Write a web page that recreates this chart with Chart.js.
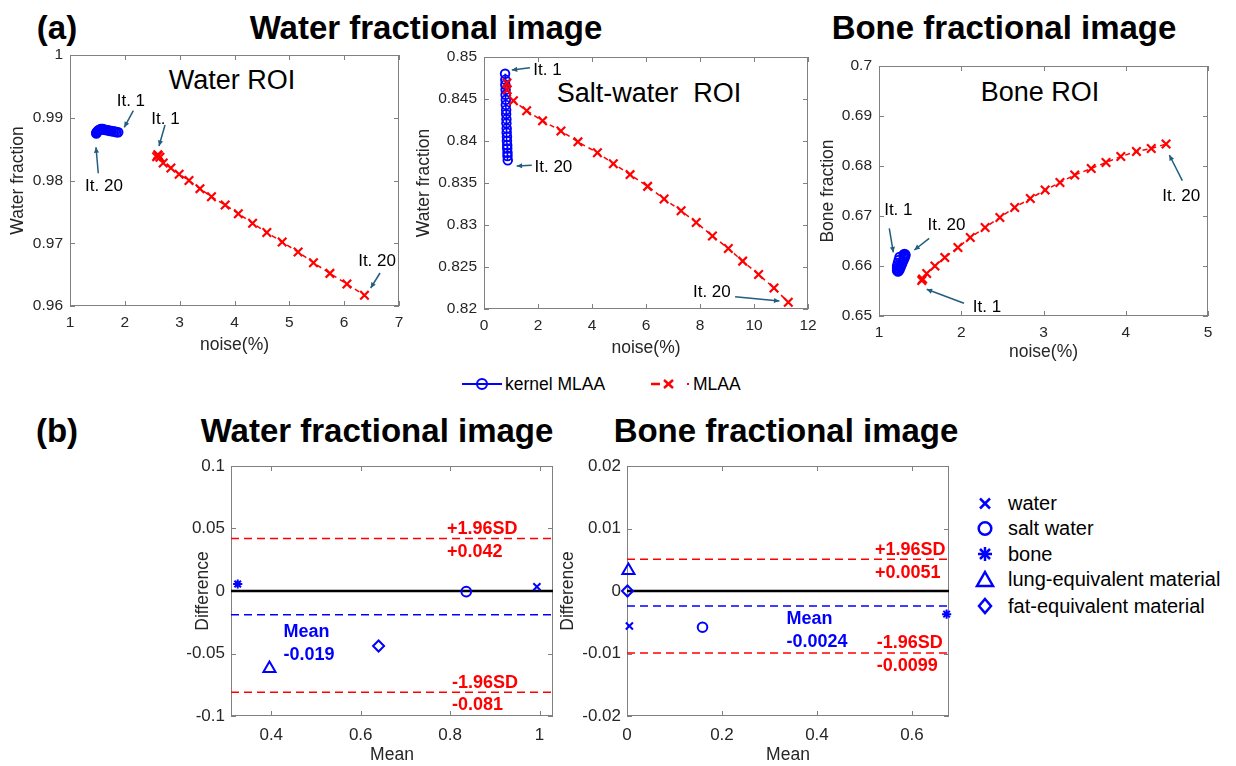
<!DOCTYPE html>
<html>
<head>
<meta charset="utf-8">
<script src="https://cdn.jsdelivr.net/npm/chart.js@4.4.1/dist/chart.umd.min.js"></script>
<style>
  body { margin: 0; width: 1236px; height: 766px; position: relative; background: #fff; overflow: hidden;
         font-family: 'Liberation Sans', Arial, sans-serif; }
  canvas { position: absolute; }
  .lbl { position: absolute; white-space: pre; transform: translate(-50%, -50%); color: #000; line-height: 1; }
  .b { font-weight: bold; }
  svg { position: absolute; }
</style>
</head>
<body>

<div class="lbl b" style="left:57px;top:27px;font-size:33px">(a)</div>
<div class="lbl b" style="left:426px;top:27px;font-size:33px">Water fractional image</div>
<div class="lbl b" style="left:1004px;top:27px;font-size:33px">Bone fractional image</div>
<div class="lbl b" style="left:57px;top:430px;font-size:33px">(b)</div>
<div class="lbl b" style="left:377px;top:430px;font-size:33px">Water fractional image</div>
<div class="lbl b" style="left:786px;top:430px;font-size:33px">Bone fractional image</div>
<div class="lbl" style="left:232px;top:80px;font-size:27px">Water ROI</div>
<div class="lbl" style="left:649px;top:93px;font-size:27px">Salt-water  ROI</div>
<div class="lbl" style="left:1040px;top:92px;font-size:27px">Bone ROI</div>

<!-- legend of part (a) -->
<svg style="left:440px;top:372px" width="320" height="24">
  <line x1="22" y1="12" x2="62" y2="12" stroke="#0000ff" stroke-width="2"/>
  <circle cx="42" cy="12" r="5" fill="none" stroke="#0000ff" stroke-width="2"/>
  <text x="65" y="18" font-family="Liberation Sans, Arial" font-size="17.5" fill="#000">kernel MLAA</text>
  <line x1="211" y1="12" x2="220" y2="12" stroke="#ff0000" stroke-width="2.5"/>
  <line x1="224" y1="8" x2="233" y2="16" stroke="#ff0000" stroke-width="2.5"/>
  <line x1="224" y1="16" x2="233" y2="8" stroke="#ff0000" stroke-width="2.5"/>
  <line x1="247" y1="12" x2="249" y2="12" stroke="#ff0000" stroke-width="2"/>
  <text x="253" y="18" font-family="Liberation Sans, Arial" font-size="17.5" fill="#000">MLAA</text>
</svg>

<!-- legend of part (b) -->
<svg style="left:968px;top:488px" width="268" height="132">
  <g stroke="#0000ff" stroke-width="2.5" fill="none">
    <line x1="12" y1="10.5" x2="22" y2="20.5"/><line x1="12" y1="20.5" x2="22" y2="10.5"/>
    <circle cx="17" cy="40.5" r="6.3"/>
    <line x1="17" y1="59" x2="17" y2="73"/><line x1="10" y1="66" x2="24" y2="66"/>
    <line x1="12" y1="61" x2="22" y2="71"/><line x1="12" y1="71" x2="22" y2="61"/>
    <polygon points="17,84 25,98 9,98"/>
    <polygon points="17,111 23,118 17,125 11,118"/>
  </g>
  <g font-family="Liberation Sans, Arial" font-size="20" fill="#000">
    <text x="40" y="22">water</text>
    <text x="40" y="47">salt water</text>
    <text x="40" y="73">bone</text>
    <text x="40" y="98">lung-equivalent material</text>
    <text x="40" y="125">fat-equivalent material</text>
  </g>
</svg>

<script>
// ---- (a) noise (%) vs fraction, iterations 1..20 ----
const waterRoiKernelNoise = [1.88, 1.85, 1.82, 1.79, 1.76, 1.73, 1.70, 1.67, 1.64, 1.62, 1.60, 1.58, 1.56, 1.54, 1.52, 1.51, 1.50, 1.49, 1.48, 1.48];
const waterRoiKernelFrac  = [0.9877, 0.9877, 0.9878, 0.9878, 0.9879, 0.9879, 0.9880, 0.9880, 0.9881, 0.9881, 0.9882, 0.9882, 0.9882, 0.9881, 0.9880, 0.9879, 0.9878, 0.9877, 0.9876, 0.9875];
const waterRoiMlaaNoise = [2.60, 2.58, 2.61, 2.64, 2.70, 2.84, 2.99, 3.17, 3.37, 3.58, 3.83, 4.07, 4.33, 4.59, 4.87, 5.16, 5.44, 5.74, 6.05, 6.37];
const waterRoiMlaaFrac  = [0.9841, 0.9838, 0.9840, 0.9837, 0.9828, 0.9820, 0.9810, 0.9800, 0.9787, 0.9774, 0.9761, 0.9747, 0.9732, 0.9717, 0.9702, 0.9686, 0.9669, 0.9652, 0.9635, 0.9617];

const saltRoiKernelNoise = [0.78, 0.79, 0.79, 0.80, 0.80, 0.81, 0.81, 0.82, 0.82, 0.83, 0.83, 0.84, 0.84, 0.85, 0.85, 0.86, 0.86, 0.87, 0.87, 0.88];
const saltRoiKernelFrac  = [0.8480, 0.8473, 0.8467, 0.8461, 0.8455, 0.8449, 0.8443, 0.8437, 0.8432, 0.8426, 0.8421, 0.8415, 0.8410, 0.8405, 0.8400, 0.8395, 0.8391, 0.8386, 0.8382, 0.8377];
const saltRoiMlaaNoise = [0.85, 0.86, 1.09, 1.58, 2.17, 2.85, 3.48, 4.20, 4.79, 5.41, 6.06, 6.67, 7.30, 7.86, 8.46, 9.05, 9.58, 10.17, 10.74, 11.27];
const saltRoiMlaaFrac  = [0.8469, 0.8461, 0.8448, 0.8436, 0.8424, 0.8412, 0.8399, 0.8386, 0.8373, 0.8360, 0.8346, 0.8331, 0.8317, 0.8303, 0.8287, 0.8272, 0.8257, 0.8241, 0.8225, 0.8208];

const boneRoiKernelNoise = [1.25, 1.24, 1.23, 1.22, 1.22, 1.22, 1.23, 1.24, 1.25, 1.26, 1.27, 1.28, 1.29, 1.30, 1.31, 1.31, 1.32, 1.32, 1.31, 1.30];
const boneRoiKernelFrac  = [0.6618, 0.6612, 0.6606, 0.6600, 0.6595, 0.6591, 0.6589, 0.6590, 0.6593, 0.6597, 0.6601, 0.6605, 0.6609, 0.6613, 0.6616, 0.6619, 0.6621, 0.6623, 0.6624, 0.6623];
const boneRoiMlaaNoise = [1.53, 1.52, 1.58, 1.68, 1.80, 1.96, 2.11, 2.29, 2.47, 2.65, 2.84, 3.02, 3.20, 3.38, 3.58, 3.76, 3.94, 4.13, 4.31, 4.49];
const boneRoiMlaaFrac  = [0.6574, 0.6571, 0.6585, 0.6600, 0.6617, 0.6637, 0.6657, 0.6677, 0.6697, 0.6717, 0.6735, 0.6752, 0.6767, 0.6782, 0.6795, 0.6807, 0.6819, 0.6829, 0.6835, 0.6844];

// ---- (b) Bland-Altman ----
const materials = ['water', 'salt water', 'bone', 'lung-equivalent material', 'fat-equivalent material'];
const materialMarkers = ['crossRot', 'circle', 'star', 'triangle', 'rectRot'];
const materialSizes = [5, 4.8, 4.6, 7, 5.5];
const waterImgMean = [0.994, 0.836, 0.325, 0.396, 0.640];
const waterImgDiff = [0.0034, -0.0005, 0.0056, -0.062, -0.044];
const waterImgLimits = [0.042, -0.019, -0.081];   // +1.96SD, mean, -1.96SD
const boneImgMean = [0.005, 0.159, 0.673, 0.003, 0.001];
const boneImgDiff = [-0.0056, -0.0058, -0.0037, 0.0033, 0.0];
const boneImgLimits = [0.0051, -0.0024, -0.0099];

// tick labels
const waterRoiXTicks = [1, 2, 3, 4, 5, 6, 7];
const waterRoiYTicks = [0.96, 0.97, 0.98, 0.99, 1];
const saltRoiXTicks = [0, 2, 4, 6, 8, 10, 12];
const saltRoiYTicks = [0.82, 0.825, 0.83, 0.835, 0.84, 0.845, 0.85];
const boneRoiXTicks = [1, 2, 3, 4, 5];
const boneRoiYTicks = [0.65, 0.66, 0.67, 0.68, 0.69, 0.7];
const waterImgXTicks = [0.4, 0.6, 0.8, 1];
const waterImgYTicks = [-0.1, -0.05, 0, 0.05, 0.1];
const boneImgXTicks = [0, 0.2, 0.4, 0.6];
const boneImgYTicks = [-0.02, -0.01, 0, 0.01, 0.02];

const FONT = "'Liberation Sans', Arial, sans-serif";
const AXIS_GREY = '#808080';
const TEXT_GREY = '#262626';
const ARROW = '#235d7e';

const fmt = v => String(parseFloat(Number(v).toFixed(6)));
const pts = (xs, ys) => xs.map((x, i) => ({ x, y: ys[i] }));

// MATLAB-like box with inward ticks on all sides
const boxPlugin = {
  id: 'matBox',
  beforeDatasetsDraw(chart) {
    const { ctx, chartArea: a, scales: { x, y } } = chart;
    ctx.save();
    ctx.strokeStyle = AXIS_GREY;
    ctx.lineWidth = 1;
    ctx.strokeRect(a.left + 0.5, a.top + 0.5, a.width - 1, a.height - 1);
    ctx.beginPath();
    x.ticks.forEach(t => {
      const px = Math.round(x.getPixelForValue(t.value)) + 0.5;
      ctx.moveTo(px, a.bottom); ctx.lineTo(px, a.bottom - 5);
      ctx.moveTo(px, a.top); ctx.lineTo(px, a.top + 5);
    });
    y.ticks.forEach(t => {
      const py = Math.round(y.getPixelForValue(t.value)) + 0.5;
      ctx.moveTo(a.left, py); ctx.lineTo(a.left + 5, py);
      ctx.moveTo(a.right, py); ctx.lineTo(a.right - 5, py);
    });
    ctx.stroke();
    ctx.restore();
  }
};

// "It. n" notes with arrows, positioned in data units
const notesPlugin = {
  id: 'notes',
  afterDatasetsDraw(chart, args, opts) {
    const items = opts.items || [];
    const { ctx, scales: { x, y } } = chart;
    ctx.save();
    ctx.font = '17px ' + FONT;
    ctx.textAlign = 'center';
    ctx.textBaseline = 'middle';
    items.forEach(n => {
      ctx.fillStyle = '#000';
      ctx.fillText(n.text, x.getPixelForValue(n.x), y.getPixelForValue(n.y));
      const x1 = x.getPixelForValue(n.from[0]), y1 = y.getPixelForValue(n.from[1]);
      const x2 = x.getPixelForValue(n.to[0]), y2 = y.getPixelForValue(n.to[1]);
      ctx.strokeStyle = ARROW; ctx.fillStyle = ARROW; ctx.lineWidth = 1.5;
      ctx.beginPath(); ctx.moveTo(x1, y1); ctx.lineTo(x2, y2); ctx.stroke();
      const ang = Math.atan2(y2 - y1, x2 - x1), h = 6;
      ctx.beginPath();
      ctx.moveTo(x2, y2);
      ctx.lineTo(x2 - h * Math.cos(ang - 0.45), y2 - h * Math.sin(ang - 0.45));
      ctx.lineTo(x2 - h * Math.cos(ang + 0.45), y2 - h * Math.sin(ang + 0.45));
      ctx.closePath(); ctx.fill();
    });
    ctx.restore();
  }
};

// labels of the limit lines in the Bland-Altman plots
const limitLabelPlugin = {
  id: 'limitLabels',
  afterDatasetsDraw(chart, args, opts) {
    const items = opts.items || [];
    const { ctx, scales: { x, y } } = chart;
    ctx.save();
    ctx.font = 'bold 18px ' + FONT;
    ctx.textAlign = 'left';
    ctx.textBaseline = 'middle';
    items.forEach(it => {
      ctx.fillStyle = it.color;
      ctx.fillText(it.text, x.getPixelForValue(it.x), y.getPixelForValue(it.value) + it.dy);
    });
    ctx.restore();
  }
};

Chart.register(boxPlugin, notesPlugin, limitLabelPlugin);

function axis(range, ticks, title, tickSize, titleSize, pad, titlePad, fitFn) {
  return {
    type: 'linear', min: range[0], max: range[1],
    afterBuildTicks: s => { s.ticks = ticks.map(v => ({ value: v })); },
    afterFit: fitFn,
    grid: { display: false, drawTicks: false },
    border: { display: false },
    ticks: { font: { family: FONT, size: tickSize }, color: TEXT_GREY, padding: pad,
             callback: fmt, maxRotation: 0, autoSkip: false },
    title: { display: true, text: title, font: { family: FONT, size: titleSize },
             color: TEXT_GREY, padding: titlePad }
  };
}

function buildPanel(p) {
  const [l, t, r, b] = p.box;
  const half = p.titleSize * 1.2 / 2;
  // canvas starts far enough left for the widest tick label, title placed with its padding
  const cl = Math.min(Math.round(p.yTitleX - half), l - 50);
  const yTitlePad = { top: p.yTitleX - half - cl, bottom: 0 };
  const ct = t - 20, cr = r + 26;
  const cb = Math.round(p.xTitleY + half);
  const yW = l - cl, xH = cb - b;
  const cv = document.createElement('canvas');
  cv.width = cr - cl; cv.height = cb - ct;
  cv.style.left = cl + 'px'; cv.style.top = ct + 'px';
  cv.style.width = (cr - cl) + 'px'; cv.style.height = (cb - ct) + 'px';
  document.body.appendChild(cv);
  return new Chart(cv, {
    type: 'scatter',
    data: { datasets: p.datasets },
    options: {
      responsive: false,
      animation: false,
      events: [],
      layout: { padding: { left: 0, top: t - ct, right: cr - r, bottom: 0 } },
      plugins: {
        legend: { display: false },
        tooltip: { enabled: false },
        notes: { items: p.notes || [] },
        limitLabels: { items: p.limitLabels || [] }
      },
      scales: {
        x: axis(p.xRange, p.xTicks, p.xTitle, p.tickSize, p.titleSize, p.xPad, 0, s => { s.height = xH; }),
        y: axis(p.yRange, p.yTicks, p.yTitle, p.tickSize, p.titleSize, p.yPad, yTitlePad, s => { s.width = yW; })
      }
    }
  });
}

function roiDatasets(kx, ky, mx, my) {
  return [
    { label: 'MLAA', data: pts(mx, my), showLine: true, order: 0, clip: false,
      borderColor: '#ff0000', backgroundColor: '#ff0000', borderWidth: 1.5, borderDash: [5, 4],
      pointStyle: 'crossRot', pointRadius: 6, pointBorderWidth: 2.2 },
    { label: 'kernel MLAA', data: pts(kx, ky), showLine: true, order: 1, clip: false,
      borderColor: '#0000ff', backgroundColor: 'rgba(0,0,0,0)', borderWidth: 1.5,
      pointStyle: 'circle', pointRadius: 4.3, pointBorderWidth: 1.9 }
  ];
}

function baDatasets(means, diffs, limits, xRange) {
  const ds = materials.map((m, i) => ({
    label: m, data: [{ x: means[i], y: diffs[i] }], order: 0, clip: false,
    borderColor: '#0000ff', backgroundColor: 'rgba(0,0,0,0)',
    pointStyle: materialMarkers[i], pointRadius: materialSizes[i], pointBorderWidth: 2
  }));
  const colors = ['#ff0000', '#0000ff', '#ff0000'];
  limits.forEach((v, i) => ds.push({
    label: 'limit' + i, data: [{ x: xRange[0], y: v }, { x: xRange[1], y: v }],
    showLine: true, order: 2, pointRadius: 0, borderColor: colors[i], borderWidth: 1.5, borderDash: [8, 5]
  }));
  ds.push({
    label: 'zero', data: [{ x: xRange[0], y: 0 }, { x: xRange[1], y: 0 }],
    showLine: true, order: 1, pointRadius: 0, borderColor: '#000', borderWidth: 2.5
  });
  return ds;
}

function limitTexts(limits, sdX, lowX, meanX, meanDy) {
  return [
    { text: '+1.96SD', x: sdX, value: limits[0], dy: -9.5, color: '#ff0000' },
    { text: '+' + limits[0], x: sdX, value: limits[0], dy: 13.5, color: '#ff0000' },
    { text: 'Mean', x: meanX, value: limits[1], dy: meanDy, color: '#0000ff' },
    { text: String(limits[1]), x: meanX, value: limits[1], dy: meanDy + 23, color: '#0000ff' },
    { text: '-1.96SD', x: lowX, value: limits[2], dy: -9.5, color: '#ff0000' },
    { text: String(limits[2]), x: lowX, value: limits[2], dy: 13, color: '#ff0000' }
  ];
}

// (a) Water ROI
buildPanel({
  box: [70, 55, 399, 306], yTitleX: 18, xTitleY: 345, tickSize: 15.5, titleSize: 17.5, xPad: 7, yPad: 7,
  xRange: [1, 7], yRange: [0.96, 1], xTicks: waterRoiXTicks, yTicks: waterRoiYTicks,
  xTitle: 'noise(%)', yTitle: 'Water fraction',
  datasets: roiDatasets(waterRoiKernelNoise, waterRoiKernelFrac, waterRoiMlaaNoise, waterRoiMlaaFrac),
  notes: [
    { text: 'It. 1', x: 2.11, y: 0.99267, from: [2.155, 0.99112], to: [1.99, 0.98848] },
    { text: 'It. 1', x: 2.74, y: 0.98980, from: [2.733, 0.98884], to: [2.623, 0.98550] },
    { text: 'It. 20', x: 1.62, y: 0.97901, from: [1.516, 0.98115], to: [1.474, 0.98529] },
    { text: 'It. 20', x: 6.60, y: 0.96706, from: [6.654, 0.96526], to: [6.484, 0.96287] }
  ]
});

// (a) Salt-water ROI
buildPanel({
  box: [484, 57, 808, 309], yTitleX: 424, xTitleY: 348, tickSize: 15.5, titleSize: 17.5, xPad: 7, yPad: 7,
  xRange: [0, 12], yRange: [0.82, 0.85], xTicks: saltRoiXTicks, yTicks: saltRoiYTicks,
  xTitle: 'noise(%)', yTitle: 'Water fraction',
  datasets: roiDatasets(saltRoiKernelNoise, saltRoiKernelFrac, saltRoiMlaaNoise, saltRoiMlaaFrac),
  notes: [
    { text: 'It. 1', x: 2.35, y: 0.84845, from: [1.70, 0.84873], to: [1.03, 0.84845] },
    { text: 'It. 20', x: 2.57, y: 0.83682, from: [1.77, 0.83711], to: [1.21, 0.83702] },
    { text: 'It. 20', x: 8.44, y: 0.82199, from: [9.30, 0.82147], to: [10.94, 0.82095] }
  ]
});

// (a) Bone ROI
buildPanel({
  box: [879, 66, 1208, 316], yTitleX: 828, xTitleY: 352, tickSize: 15.5, titleSize: 17.5, xPad: 7, yPad: 7,
  xRange: [1, 5], yRange: [0.65, 0.7], xTicks: boneRoiXTicks, yTicks: boneRoiYTicks,
  xTitle: 'noise(%)', yTitle: 'Bone fraction',
  datasets: roiDatasets(boneRoiKernelNoise, boneRoiKernelFrac, boneRoiMlaaNoise, boneRoiMlaaFrac),
  notes: [
    { text: 'It. 1', x: 1.235, y: 0.67106, from: [1.125, 0.66754], to: [1.174, 0.66274] },
    { text: 'It. 20', x: 1.82, y: 0.66806, from: [1.61, 0.66554], to: [1.43, 0.6632] },
    { text: 'It. 1', x: 2.313, y: 0.65174, from: [2.033, 0.65254], to: [1.58, 0.65534] },
    { text: 'It. 20', x: 4.675, y: 0.67386, from: [4.688, 0.67706], to: [4.53, 0.6822] }
  ]
});

// (b) Water fractional image
const waterImgRange = [0.31, 1.03];
buildPanel({
  box: [231, 466, 553, 716], yTitleX: 203, xTitleY: 755, tickSize: 17, titleSize: 17.5, xPad: 9, yPad: 6,
  xRange: waterImgRange, yRange: [-0.1, 0.1], xTicks: waterImgXTicks, yTicks: waterImgYTicks,
  xTitle: 'Mean', yTitle: 'Difference',
  datasets: baDatasets(waterImgMean, waterImgDiff, waterImgLimits, waterImgRange),
  limitLabels: limitTexts(waterImgLimits, 0.793, 0.804, 0.4275, 17)
});

// (b) Bone fractional image
const boneImgRange = [0, 0.678];
buildPanel({
  box: [627, 466, 949, 716], yTitleX: 568, xTitleY: 755, tickSize: 17, titleSize: 17.5, xPad: 9, yPad: 6,
  xRange: boneImgRange, yRange: [-0.02, 0.02], xTicks: boneImgXTicks, yTicks: boneImgYTicks,
  xTitle: 'Mean', yTitle: 'Difference',
  datasets: baDatasets(boneImgMean, boneImgDiff, boneImgLimits, boneImgRange),
  limitLabels: limitTexts(boneImgLimits, 0.522, 0.526, 0.336, 13)
});
</script>
</body>
</html>
